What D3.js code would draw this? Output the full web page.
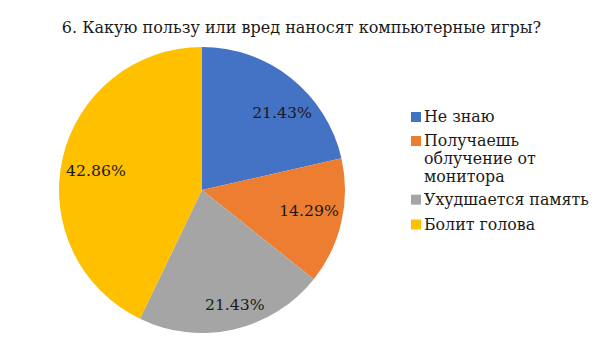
<!DOCTYPE html>
<html><head><meta charset="utf-8">
<script src="https://cdn.jsdelivr.net/npm/d3@7"></script>
<style>
html,body{margin:0;padding:0;background:#fff;}
text{font-family:"DejaVu Serif",serif;fill:#1a1a1a;}
</style></head>
<body>
<svg id="c" width="605" height="340"></svg>
<script>
const title = "6. Какую пользу или вред наносят компьютерные игры?";
const categories = ["Не знаю", "Получаешь облучение от монитора", "Ухудшается память", "Болит голова"];
const legendLines = [["Не знаю"], ["Получаешь", "облучение от", "монитора"], ["Ухудшается память"], ["Болит голова"]];
const values = [21.43, 14.29, 21.43, 42.86];
const labels = ["21.43%", "14.29%", "21.43%", "42.86%"];
const colors = ["#4472C4", "#ED7D31", "#A5A5A5", "#FFC000"];

const svg = d3.select("#c");
const cx = 202, cy = 190, R = 143;

svg.append("text").attr("x", 301.5).attr("y", 32.5).attr("text-anchor", "middle")
  .style("font-size", "16px").text(title);

const pie = d3.pie().sort(null).value(d => d);
const arcs = pie(values);
const arc = d3.arc().innerRadius(0).outerRadius(R);
const g = svg.append("g").attr("transform", `translate(${cx},${cy})`);
g.selectAll("path").data(arcs).enter().append("path")
  .attr("d", arc).attr("fill", (d, i) => colors[i]);

// label placement (Excel best-fit style nudges)
const labelR = 0.78;
const nudge = [[10.5, 10], [-1.7, -4.8], [8, 6], [2.7, 4.8]];
g.selectAll("text.lbl").data(arcs).enter().append("text")
  .attr("class", "lbl")
  .attr("text-anchor", "middle")
  .attr("dy", "0.36em")
  .style("font-size", "15.7px")
  .attr("transform", (d, i) => {
    const a = (d.startAngle + d.endAngle) / 2;
    const r = R * labelR;
    return `translate(${r * Math.sin(a) + nudge[i][0]},${-r * Math.cos(a) + nudge[i][1]})`;
  })
  .text((d, i) => labels[i]);

// legend
const lx = 411;
const firstBase = [122, 146, 204.7, 229.5];
const lh = 18.2;
const lg = svg.append("g");
legendLines.forEach((lines, i) => {
  const b = firstBase[i];
  lg.append("rect").attr("x", lx).attr("y", b - 10).attr("width", 10).attr("height", 10).attr("fill", colors[i]);
  lines.forEach((t, j) => {
    lg.append("text").attr("x", lx + 13).attr("y", b + j * lh).style("font-size", "15.8px").text(t);
  });
});
</script>
</body></html>
